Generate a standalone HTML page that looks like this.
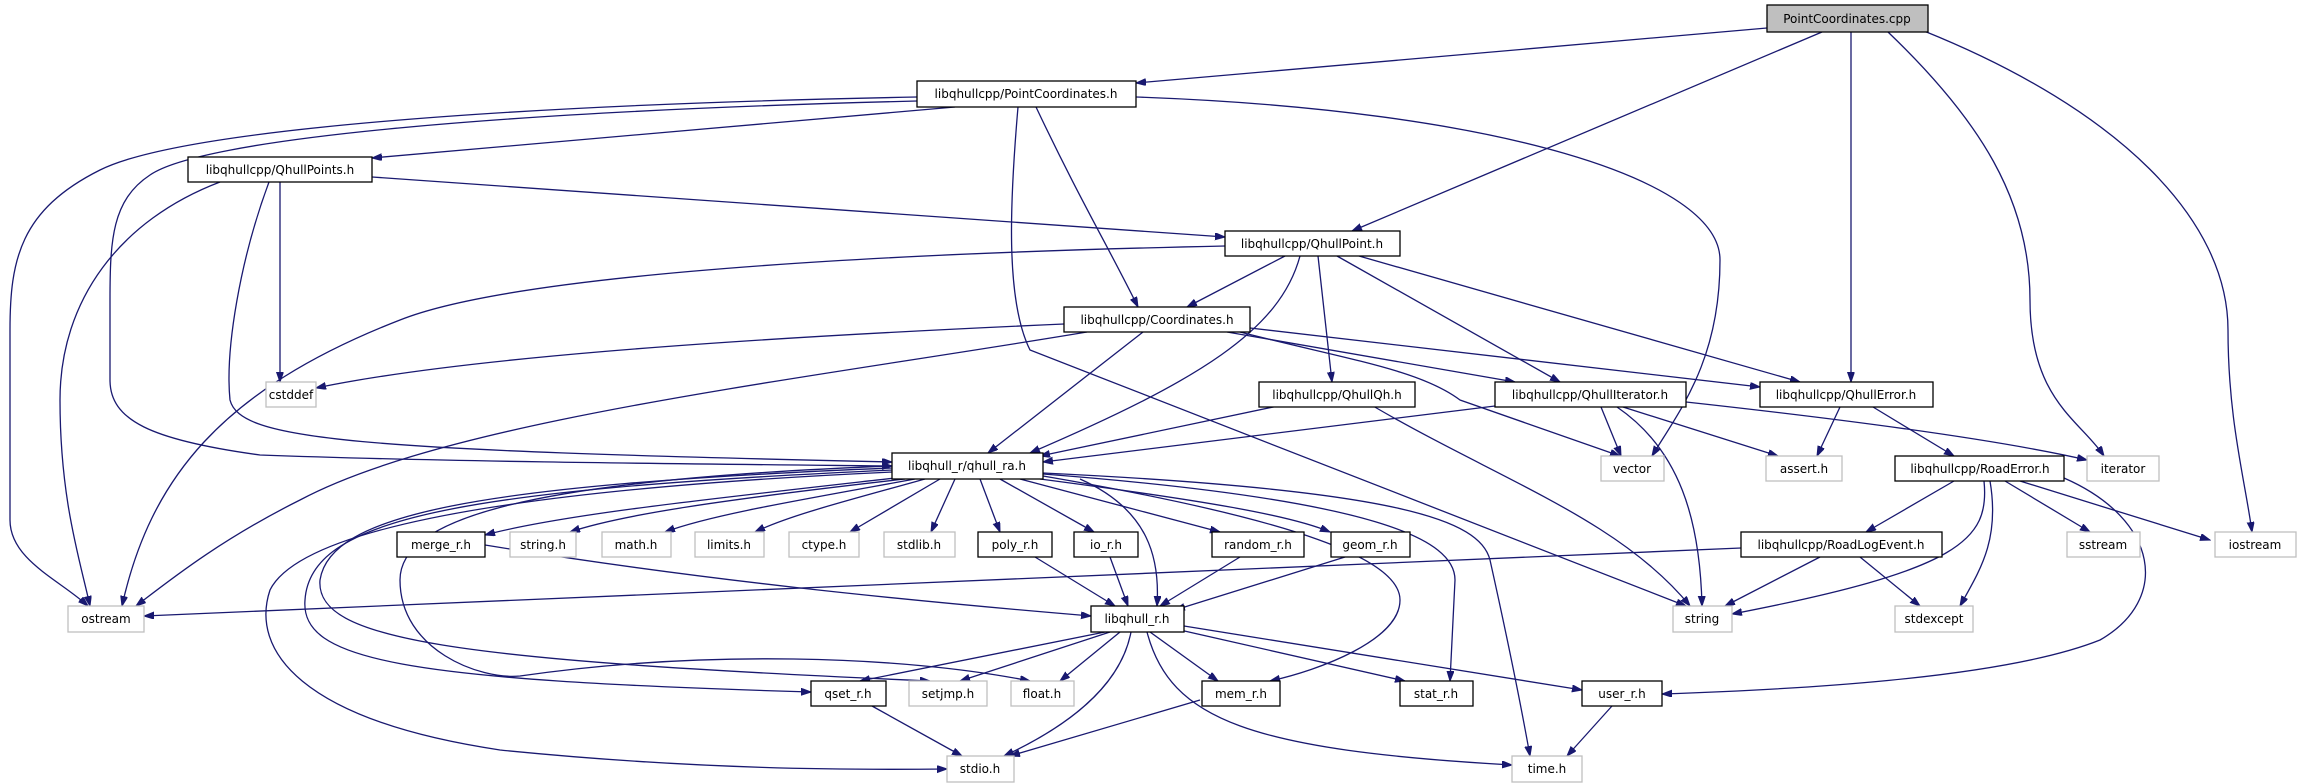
<!DOCTYPE html>
<html><head><meta charset="utf-8"><style>
html,body{margin:0;padding:0;background:#fff;}
svg{display:block}
text{font-family:"DejaVu Sans","Liberation Sans",sans-serif;font-size:12px;text-anchor:middle;fill:#000}
.e{fill:none;stroke:#191970;stroke-width:1.3;marker-end:url(#a)}
.b{fill:#fff;stroke:#000;stroke-width:1.3}
.g{fill:#fff;stroke:#bfbfbf;stroke-width:1.3}
</style></head><body>
<svg width="2303" height="784" viewBox="0 0 2303 784" xmlns="http://www.w3.org/2000/svg">
<defs><marker id="a" markerUnits="userSpaceOnUse" markerWidth="11" markerHeight="8" refX="10" refY="3.5" orient="auto"><path d="M0,0 L10,3.5 L0,7 z" fill="#191970" stroke="#191970"/></marker></defs>
<g>
<path class="e" d="M1767,28 L1136,83"/>
<path class="e" d="M1822,32 L1352,231"/>
<path class="e" d="M1851,32 L1851,382"/>
<path class="e" d="M1888,32 C1980,120 2030,200 2030,300 S2080,420 2104,456"/>
<path class="e" d="M1924,31 C2120,110 2228,220 2228,330 C2228,420 2245,480 2252,532"/>
<path class="e" d="M955,107 L372,158"/>
<path class="e" d="M917,97 C500,105 180,130 100,170 C20,210 10,260 10,330 L10,520 C10,560 60,580 88,606"/>
<path class="e" d="M917,101 C480,112 200,140 150,175 C112,200 110,240 110,300 L110,380 C110,420 150,440 260,455 C450,462 700,464 892,466"/>
<path class="e" d="M1036,107 C1080,200 1110,250 1138,307"/>
<path class="e" d="M1018,107 C1010,200 1005,300 1030,350 L1686,606"/>
<path class="e" d="M1136,97 C1500,110 1720,180 1720,260 C1720,360 1680,410 1652,456"/>
<path class="e" d="M372,177 L1225,237"/>
<path class="e" d="M220,182 C120,220 60,300 60,400 C60,500 80,560 90,606"/>
<path class="e" d="M269,182 C240,260 225,350 230,400 C240,440 350,450 892,462"/>
<path class="e" d="M280,182 L280,382"/>
<path class="e" d="M1225,246 C800,255 500,280 400,320 C220,390 150,480 122,606"/>
<path class="e" d="M1285,256 L1187,307"/>
<path class="e" d="M1300,256 C1280,330 1200,380 1030,453"/>
<path class="e" d="M1318,256 L1332,382"/>
<path class="e" d="M1337,256 L1560,382"/>
<path class="e" d="M1359,256 L1800,382"/>
<path class="e" d="M1064,324 C700,340 450,360 316,388"/>
<path class="e" d="M1087,332 C800,380 450,420 300,500 C220,540 170,580 136,606"/>
<path class="e" d="M1143,332 L988,453"/>
<path class="e" d="M1227,332 L1515,382"/>
<path class="e" d="M1250,328 L1760,387"/>
<path class="e" d="M1240,332 C1350,360 1420,370 1460,400 L1620,456"/>
<path class="e" d="M1278,406 L1040,456"/>
<path class="e" d="M1373,406 C1500,480 1620,520 1690,606"/>
<path class="e" d="M1495,406 L1043,462"/>
<path class="e" d="M1601,407 L1621,456"/>
<path class="e" d="M1623,407 L1778,456"/>
<path class="e" d="M1617,407 C1680,450 1700,520 1702,606"/>
<path class="e" d="M1686,402 C1850,420 2000,440 2087,460"/>
<path class="e" d="M1840,407 L1817,456"/>
<path class="e" d="M1873,407 L1954,456"/>
<path class="e" d="M895,478 C700,500 560,515 485,535"/>
<path class="e" d="M905,479 C720,500 620,515 570,532"/>
<path class="e" d="M915,479 C800,500 710,515 665,532"/>
<path class="e" d="M925,479 C850,500 790,515 755,532"/>
<path class="e" d="M940,479 L850,532"/>
<path class="e" d="M955,479 L931,532"/>
<path class="e" d="M980,479 L1000,532"/>
<path class="e" d="M1000,479 L1094,532"/>
<path class="e" d="M1020,479 L1220,532"/>
<path class="e" d="M1040,479 C1200,500 1290,515 1330,532"/>
<path class="e" d="M1080,479 C1150,510 1160,560 1157,606"/>
<path class="e" d="M1043,476 C1300,520 1400,560 1400,600 C1400,640 1320,670 1270,681"/>
<path class="e" d="M1043,474 C1380,500 1455,540 1455,580 L1450,681"/>
<path class="e" d="M1043,473 C1400,490 1480,520 1490,560 C1510,650 1520,700 1530,756"/>
<path class="e" d="M892,472 C500,490 300,530 270,590 C250,650 300,720 500,750 C700,770 850,770 947,769"/>
<path class="e" d="M892,470 C450,490 310,520 305,600 C300,660 400,680 811,692"/>
<path class="e" d="M892,468 C470,485 330,515 320,580 C315,640 450,660 930,681"/>
<path class="e" d="M892,466 C520,480 400,520 400,580 C400,650 480,680 520,676 C700,650 900,655 1030,681"/>
<path class="e" d="M1105,632 L860,681"/>
<path class="e" d="M1110,632 L960,681"/>
<path class="e" d="M1120,632 L1060,681"/>
<path class="e" d="M1150,632 L1218,681"/>
<path class="e" d="M1180,630 L1405,681"/>
<path class="e" d="M1184,626 L1582,690"/>
<path class="e" d="M1131,632 C1120,690 1060,730 1004,756"/>
<path class="e" d="M1147,632 C1170,720 1250,750 1512,765"/>
<path class="e" d="M485,545 C700,580 900,600 1091,616"/>
<path class="e" d="M1035,557 L1115,606"/>
<path class="e" d="M1110,557 L1128,606"/>
<path class="e" d="M1240,557 L1160,606"/>
<path class="e" d="M1345,557 L1175,610"/>
<path class="e" d="M1741,548 L144,616"/>
<path class="e" d="M1820,557 L1725,606"/>
<path class="e" d="M1860,557 L1920,606"/>
<path class="e" d="M1954,481 L1866,532"/>
<path class="e" d="M1984,481 C1990,540 1960,570 1732,614"/>
<path class="e" d="M1990,481 C2000,540 1980,570 1960,606"/>
<path class="e" d="M2005,481 L2090,532"/>
<path class="e" d="M2020,481 L2210,540"/>
<path class="e" d="M2064,478 C2160,520 2170,600 2100,640 C2000,680 1780,690 1662,694"/>
<path class="e" d="M872,706 L962,756"/>
<path class="e" d="M1200,700 L1010,756"/>
<path class="e" d="M1612,706 L1567,756"/>
</g>
<g>
<rect x="1767" y="5" width="161" height="27" fill="#bfbfbf" stroke="#000" stroke-width="1.3"/><text x="1847" y="23">PointCoordinates.cpp</text>
<rect class="b" x="917" y="81" width="219" height="26"/><text x="1026" y="98">libqhullcpp/PointCoordinates.h</text>
<rect class="b" x="188" y="157" width="184" height="25"/><text x="280" y="174">libqhullcpp/QhullPoints.h</text>
<rect class="b" x="1225" y="231" width="175" height="25"/><text x="1312" y="248">libqhullcpp/QhullPoint.h</text>
<rect class="b" x="1064" y="307" width="186" height="25"/><text x="1157" y="324">libqhullcpp/Coordinates.h</text>
<rect class="g" x="266" y="382" width="50" height="25"/><text x="291" y="399">cstddef</text>
<rect class="b" x="1259" y="382" width="156" height="25"/><text x="1337" y="399">libqhullcpp/QhullQh.h</text>
<rect class="b" x="1495" y="382" width="191" height="25"/><text x="1590" y="399">libqhullcpp/QhullIterator.h</text>
<rect class="b" x="1760" y="382" width="173" height="25"/><text x="1846" y="399">libqhullcpp/QhullError.h</text>
<rect class="b" x="892" y="453" width="151" height="26"/><text x="967" y="470">libqhull_r/qhull_ra.h</text>
<rect class="g" x="1601" y="456" width="63" height="25"/><text x="1632" y="473">vector</text>
<rect class="g" x="1766" y="456" width="76" height="25"/><text x="1804" y="473">assert.h</text>
<rect class="b" x="1895" y="456" width="169" height="25"/><text x="1980" y="473">libqhullcpp/RoadError.h</text>
<rect class="g" x="2087" y="456" width="72" height="25"/><text x="2123" y="473">iterator</text>
<rect class="b" x="397" y="532" width="88" height="25"/><text x="441" y="549">merge_r.h</text>
<rect class="g" x="510" y="532" width="66" height="25"/><text x="543" y="549">string.h</text>
<rect class="g" x="602" y="532" width="69" height="25"/><text x="636" y="549">math.h</text>
<rect class="g" x="695" y="532" width="69" height="25"/><text x="729" y="549">limits.h</text>
<rect class="g" x="789" y="532" width="70" height="25"/><text x="824" y="549">ctype.h</text>
<rect class="g" x="884" y="532" width="71" height="25"/><text x="919" y="549">stdlib.h</text>
<rect class="b" x="978" y="532" width="74" height="25"/><text x="1015" y="549">poly_r.h</text>
<rect class="b" x="1074" y="532" width="64" height="25"/><text x="1106" y="549">io_r.h</text>
<rect class="b" x="1212" y="532" width="92" height="25"/><text x="1258" y="549">random_r.h</text>
<rect class="b" x="1331" y="532" width="79" height="25"/><text x="1370" y="549">geom_r.h</text>
<rect class="b" x="1741" y="532" width="201" height="25"/><text x="1841" y="549">libqhullcpp/RoadLogEvent.h</text>
<rect class="g" x="2067" y="532" width="73" height="25"/><text x="2103" y="549">sstream</text>
<rect class="g" x="2215" y="532" width="81" height="25"/><text x="2255" y="549">iostream</text>
<rect class="g" x="68" y="606" width="76" height="26"/><text x="106" y="623">ostream</text>
<rect class="b" x="1091" y="606" width="93" height="26"/><text x="1137" y="623">libqhull_r.h</text>
<rect class="g" x="1673" y="606" width="59" height="26"/><text x="1702" y="623">string</text>
<rect class="g" x="1895" y="606" width="78" height="26"/><text x="1934" y="623">stdexcept</text>
<rect class="b" x="811" y="681" width="75" height="25"/><text x="848" y="698">qset_r.h</text>
<rect class="g" x="909" y="681" width="78" height="25"/><text x="948" y="698">setjmp.h</text>
<rect class="g" x="1011" y="681" width="63" height="25"/><text x="1042" y="698">float.h</text>
<rect class="b" x="1202" y="681" width="78" height="25"/><text x="1241" y="698">mem_r.h</text>
<rect class="b" x="1400" y="681" width="73" height="25"/><text x="1436" y="698">stat_r.h</text>
<rect class="b" x="1582" y="681" width="80" height="25"/><text x="1622" y="698">user_r.h</text>
<rect class="g" x="947" y="756" width="67" height="26"/><text x="980" y="773">stdio.h</text>
<rect class="g" x="1512" y="756" width="70" height="26"/><text x="1547" y="773">time.h</text>
</g>
</svg>
</body></html>
